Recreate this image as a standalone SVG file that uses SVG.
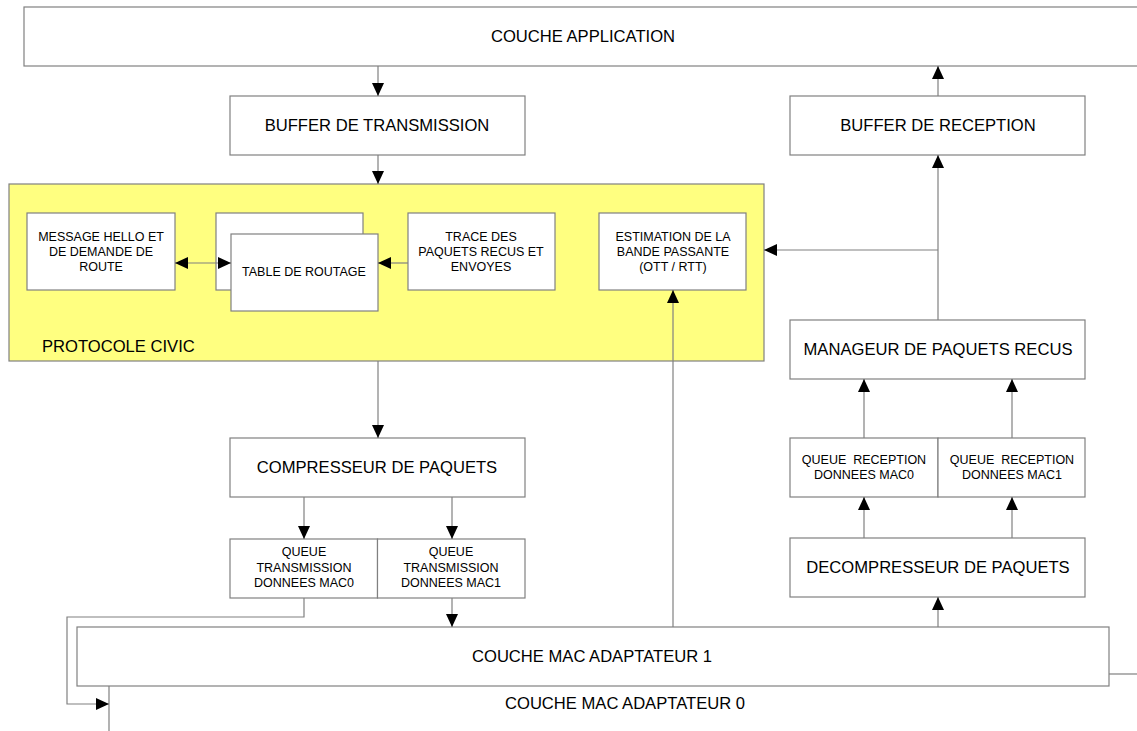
<svg xmlns="http://www.w3.org/2000/svg" width="1137" height="731" viewBox="0 0 1137 731">
<style>
.box{fill:#fff;stroke:#808080;stroke-width:1.2}
.civic{fill:#ffff80;stroke:#808080;stroke-width:1.2}
.ln{fill:none;stroke:#808080;stroke-width:1.2}
.arr{marker-end:url(#ah)}
.t{font-family:"Liberation Sans",Arial,sans-serif;font-size:16.6px;fill:#000;text-anchor:middle}
.s{font-family:"Liberation Sans",Arial,sans-serif;font-size:12.5px;fill:#000;text-anchor:middle;white-space:pre}
</style>
<defs>
<marker id="ah" markerUnits="userSpaceOnUse" markerWidth="14" markerHeight="12" refX="13" refY="6" orient="auto-start-reverse">
<path d="M0,0 L13,6 L0,12 z" fill="#000"/>
</marker>
</defs>
<rect width="1137" height="731" fill="#fff"/>

<g id="app"><rect class="box" x="24" y="7" width="1130" height="59"/><text class="t" x="583" y="42">COUCHE APPLICATION</text></g>
<g id="buftx"><rect class="box" x="230" y="96" width="295" height="59"/><text class="t" x="377" y="131">BUFFER DE TRANSMISSION</text></g>
<g id="bufrx"><rect class="box" x="790" y="96" width="295" height="59"/><text class="t" x="938" y="131">BUFFER DE RECEPTION</text></g>

<g id="civic">
<rect class="civic" x="9" y="184" width="755" height="177"/>
<text font-family="Liberation Sans, Arial, sans-serif" font-size="16.6" x="42" y="352">PROTOCOLE CIVIC</text>
</g>
<g id="hello"><rect class="box" x="27" y="213" width="148" height="77"/>
<text class="s" x="101" y="241">MESSAGE HELLO ET</text><text class="s" x="101" y="256">DE DEMANDE DE</text><text class="s" x="101" y="271">ROUTE</text></g>
<g id="table">
<rect class="box" x="216" y="213" width="147" height="77"/>
<rect class="box" x="231" y="234" width="147" height="77"/>
<text class="s" x="304" y="276">TABLE DE ROUTAGE</text></g>
<g id="trace"><rect class="box" x="408" y="213" width="147" height="77"/>
<text class="s" x="481" y="241">TRACE DES</text><text class="s" x="481" y="256">PAQUETS RECUS ET</text><text class="s" x="481" y="271">ENVOYES</text></g>
<g id="estim"><rect class="box" x="599" y="213" width="147" height="77"/>
<text class="s" x="673" y="241">ESTIMATION DE LA</text><text class="s" x="673" y="256">BANDE PASSANTE</text><text class="s" x="673" y="271">(OTT / RTT)</text></g>

<g id="manager"><rect class="box" x="790" y="320" width="295" height="59"/><text class="t" x="938" y="355">MANAGEUR DE PAQUETS RECUS</text></g>
<g id="compress"><rect class="box" x="230" y="438" width="295" height="59"/><text class="t" x="377" y="473">COMPRESSEUR DE PAQUETS</text></g>
<g id="qrx0"><rect class="box" x="790" y="438" width="148" height="59"/>
<text class="s" x="864" y="464" xml:space="preserve">QUEUE  RECEPTION</text><text class="s" x="864" y="479">DONNEES MAC0</text></g>
<g id="qrx1"><rect class="box" x="938" y="438" width="147" height="59"/>
<text class="s" x="1012" y="464" xml:space="preserve">QUEUE  RECEPTION</text><text class="s" x="1012" y="479">DONNEES MAC1</text></g>
<g id="qtx0"><rect class="box" x="230" y="539" width="147.5" height="59"/>
<text class="s" x="304" y="556">QUEUE</text><text class="s" x="304" y="572">TRANSMISSION</text><text class="s" x="304" y="587">DONNEES MAC0</text></g>
<g id="qtx1"><rect class="box" x="377.5" y="539" width="147.5" height="59"/>
<text class="s" x="451" y="556">QUEUE</text><text class="s" x="451" y="572">TRANSMISSION</text><text class="s" x="451" y="587">DONNEES MAC1</text></g>
<g id="decomp"><rect class="box" x="790" y="538" width="295" height="59"/><text class="t" x="938" y="573">DECOMPRESSEUR DE PAQUETS</text></g>

<g id="mac0"><rect class="box" x="109" y="674" width="1100" height="100"/><text class="t" x="625" y="709">COUCHE MAC ADAPTATEUR 0</text></g>
<g id="mac1"><rect class="box" x="77" y="627" width="1032" height="59"/><text class="t" x="592" y="662">COUCHE MAC ADAPTATEUR 1</text></g>

<g id="connectors">
<line class="ln arr" x1="378" y1="66" x2="378" y2="96"/>
<line class="ln arr" x1="378" y1="155" x2="378" y2="184"/>
<line class="ln arr" x1="378" y1="361" x2="378" y2="438"/>
<line class="ln arr" x1="304" y1="497" x2="304" y2="539"/>
<line class="ln arr" x1="452" y1="497" x2="452" y2="539"/>
<line class="ln arr" x1="452" y1="598" x2="452" y2="627"/>
<polyline class="ln arr" points="304,598 304,617 67,617 67,704 109,704"/>
<line class="ln" x1="175" y1="263" x2="231" y2="263" marker-start="url(#ah)" marker-end="url(#ah)"/>
<line class="ln arr" x1="408" y1="263" x2="378" y2="263"/>
<line class="ln arr" x1="673" y1="627" x2="673" y2="290"/>
<line class="ln arr" x1="938" y1="627" x2="938" y2="597"/>
<line class="ln arr" x1="864" y1="538" x2="864" y2="497"/>
<line class="ln arr" x1="1012" y1="538" x2="1012" y2="497"/>
<line class="ln arr" x1="864" y1="438" x2="864" y2="379"/>
<line class="ln arr" x1="1012" y1="438" x2="1012" y2="379"/>
<line class="ln arr" x1="938" y1="320" x2="938" y2="155"/>
<polyline class="ln arr" points="938,250 764,250"/>
<line class="ln arr" x1="938" y1="96" x2="938" y2="66"/>
</g>
</svg>
